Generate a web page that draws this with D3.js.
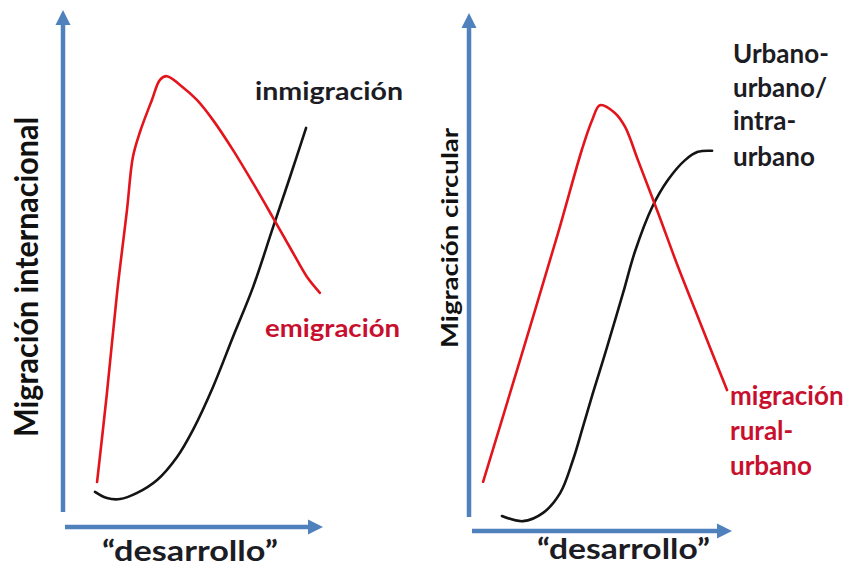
<!DOCTYPE html>
<html>
<head>
<meta charset="utf-8">
<script src="https://cdn.jsdelivr.net/npm/d3@7"></script>
<style>
  html, body { margin: 0; padding: 0; background: #fff; }
  svg { display: block; }
  text { font-family: Lato, "Open Sans", sans-serif; font-weight: 700; }
</style>
</head>
<body>
<div id="chart"></div>
<script>
// ---- Data (x = "desarrollo" 0-100, y = migración 0-100) ----
const emigracionX   = [13.1, 16.9, 20.8, 24.6, 26.9, 29.6, 34.2, 37.3, 40.0, 45.0, 51.5, 57.7, 65.4, 73.1, 80.8, 88.5, 93.8, 98.8];
const emigracionY   = [8.7, 25.9, 45.3, 61.3, 71.6, 76.4, 82.6, 86.5, 87.2, 85.5, 82.6, 78.7, 72.9, 66.5, 59.8, 53.0, 48.4, 45.3];
const inmigracionX  = [12.3, 16.9, 21.9, 28.5, 36.2, 43.8, 50.0, 57.7, 65.4, 73.1, 80.8, 87.3, 93.5];
const inmigracionY  = [6.8, 5.6, 5.4, 6.6, 9.1, 13.5, 18.8, 27.1, 36.8, 46.4, 58.0, 67.7, 77.2];

const ruralUrbanoX  = [5.0, 19.1, 33.6, 42.7, 46.6, 49.6, 55.3, 59.2, 64.1, 71.8, 79.4, 85.9, 92.4, 98.1];
const ruralUrbanoY  = [9.5, 33.0, 57.5, 73.6, 79.3, 82.2, 80.7, 78.0, 71.6, 61.4, 51.0, 42.7, 34.4, 27.2];
const urbanoUrbanoX = [12.2, 20.2, 27.9, 34.4, 39.3, 43.1, 46.9, 50.8, 54.6, 58.4, 63.0, 69.5, 75.6, 82.1, 87.0, 92.4];
const urbanoUrbanoY = [2.9, 1.9, 3.5, 7.3, 13.7, 20.1, 26.6, 33.0, 39.4, 45.9, 54.0, 62.5, 67.8, 71.6, 73.2, 73.4];

// ---- Labels ----
const xAxisTitle = "\u201Cdesarrollo\u201D";
const leftYTitle = "Migración internacional";
const rightYTitle = "Migración circular";
const leftBlackLabel = ["inmigración"];
const leftRedLabel = ["emigración"];
const rightBlackLabel = ["Urbano-", "urbano/", "intra-", "urbano"];
const rightRedLabel = ["migración", "rural-", "urbano"];

const W = 857, H = 568;
const BLUE = "#4f81bd", RED = "#e3141b", RED_TEXT = "#c8102e", BLACK = "#141414", TEXT = "#1c1c24";

const svg = d3.select("#chart").append("svg")
  .attr("width", W).attr("height", H)
  .attr("viewBox", `0 0 ${W} ${H}`);

svg.append("defs").append("marker")
  .attr("id", "arrow")
  .attr("viewBox", "0 0 10 10")
  .attr("refX", 0).attr("refY", 5)
  .attr("markerUnits", "userSpaceOnUse")
  .attr("markerWidth", 15).attr("markerHeight", 17)
  .attr("orient", "auto")
  .append("path").attr("d", "M0,0 L10,5 L0,10 Z").attr("fill", BLUE);

const panels = [
  {
    x: d3.scaleLinear().domain([0, 100]).range([63, 323]),
    y: d3.scaleLinear().domain([0, 100]).range([527, 10]),
    yAxisX: 63, yAxisBottom: 512, xAxisY: 527, xAxisStart: 65,
    red: [emigracionX, emigracionY], black: [inmigracionX, inmigracionY],
  },
  {
    x: d3.scaleLinear().domain([0, 100]).range([470, 732]),
    y: d3.scaleLinear().domain([0, 100]).range([531, 13]),
    yAxisX: 469, yAxisBottom: 517, xAxisY: 531, xAxisStart: 472,
    red: [ruralUrbanoX, ruralUrbanoY], black: [urbanoUrbanoX, urbanoUrbanoY],
  }
];

panels.forEach(p => {
  const g = svg.append("g");
  g.append("line")
    .attr("x1", p.yAxisX).attr("y1", p.yAxisBottom)
    .attr("x2", p.yAxisX).attr("y2", p.y(100) + 15)
    .attr("stroke", BLUE).attr("stroke-width", 4.5)
    .attr("marker-end", "url(#arrow)");
  g.append("line")
    .attr("x1", p.xAxisStart).attr("y1", p.xAxisY)
    .attr("x2", p.x(100) - 15).attr("y2", p.xAxisY)
    .attr("stroke", BLUE).attr("stroke-width", 4.5)
    .attr("marker-end", "url(#arrow)");

  const line = d3.line().x(d => p.x(d[0])).y(d => p.y(d[1])).curve(d3.curveCatmullRom.alpha(0.5));
  const redPts = d3.zip(p.red[0], p.red[1]);
  const blackPts = d3.zip(p.black[0], p.black[1]);
  g.append("path").attr("d", line(blackPts)).attr("fill", "none")
    .attr("stroke", BLACK).attr("stroke-width", 2.6).attr("stroke-linecap", "round");
  g.append("path").attr("d", line(redPts)).attr("fill", "none")
    .attr("stroke", RED).attr("stroke-width", 2.6).attr("stroke-linecap", "round");
});

// x axis titles
svg.append("text").attr("x", 190).attr("y", 561).attr("text-anchor", "middle")
  .attr("font-size", 29).attr("fill", TEXT)
  .attr("textLength", 176).attr("lengthAdjust", "spacingAndGlyphs").text(xAxisTitle);
svg.append("text").attr("x", 623.5).attr("y", 559).attr("text-anchor", "middle")
  .attr("font-size", 29).attr("fill", TEXT)
  .attr("textLength", 173).attr("lengthAdjust", "spacingAndGlyphs").text(xAxisTitle);

// y axis titles
svg.append("text").attr("transform", "translate(38,277) rotate(-90)")
  .attr("text-anchor", "middle").attr("font-size", 33).attr("fill", "#111")
  .attr("textLength", 320).attr("lengthAdjust", "spacingAndGlyphs").text(leftYTitle);
svg.append("text").attr("transform", "translate(458,238) rotate(-90)")
  .attr("text-anchor", "middle").attr("font-size", 23).attr("fill", "#111")
  .attr("textLength", 220).attr("lengthAdjust", "spacingAndGlyphs").text(rightYTitle);

// series labels
svg.append("text").attr("x", 255).attr("y", 100).attr("font-size", 24).attr("fill", TEXT)
  .attr("textLength", 148).attr("lengthAdjust", "spacingAndGlyphs").text(leftBlackLabel[0]);
svg.append("text").attr("x", 265).attr("y", 337).attr("font-size", 24).attr("fill", RED_TEXT)
  .attr("textLength", 135).attr("lengthAdjust", "spacingAndGlyphs").text(leftRedLabel[0]);

const rbBase = [63, 97, 130, 166];
rightBlackLabel.forEach((t, i) => {
  svg.append("text").attr("x", 733).attr("y", rbBase[i]).attr("font-size", 26)
    .attr("fill", TEXT).text(t);
});
const rrBase = [405, 440, 475];
rightRedLabel.forEach((t, i) => {
  svg.append("text").attr("x", 730).attr("y", rrBase[i]).attr("font-size", 26)
    .attr("fill", RED_TEXT).text(t);
});
</script>
</body>
</html>
